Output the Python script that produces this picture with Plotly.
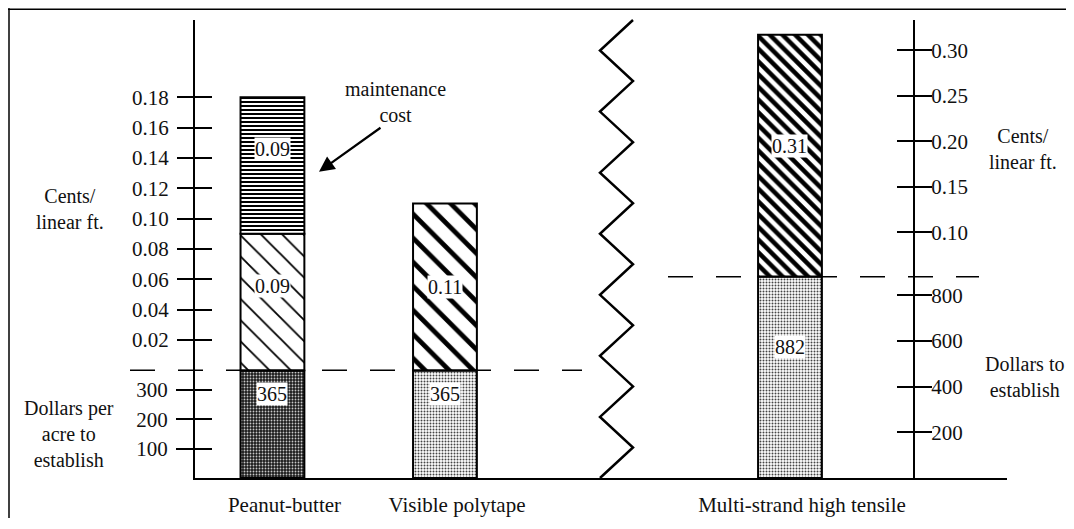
import plotly.graph_objects as go

# ---------------- data ----------------
categories = ["Peanut-butter", "Visible polytape", " ", "Multi-strand high tensile"]
fence_types = ["Peanut-butter", "Visible polytape", "Multi-strand high tensile"]
establish_dollars = [365, 365, 882]          # dollars to establish
pb_cents = [0.09, 0.09]                      # peanut-butter: operating, maintenance (cents/linear ft.)
vp_cents = [0.11]                            # visible polytape (cents/linear ft.)
ms_cents = [0.31]                            # multi-strand high tensile (cents/linear ft.)

left_dollar_ticks = [100, 200, 300]
left_cent_ticks = [0.02, 0.04, 0.06, 0.08, 0.10, 0.12, 0.14, 0.16, 0.18]
right_dollar_ticks = [200, 400, 600, 800]
right_cent_ticks = [0.10, 0.15, 0.20, 0.25, 0.30]

# ---------------- layout geometry (page pixels) ----------------
OFF = 8                       # default body margin of the html page
W, H = 1074 - OFF, 529 - OFF
PL, PR, PT, PB = 195, 1007, 20, 488   # plot area in page pixels
L, T = PL - OFF, PT - OFF
R, B = W - (PR - OFF), H - (PB - OFF)
PW, PH = PR - PL, PB - PT
def px_x(px):
    return (px - PL) / PW
def px_y(py):
    return (PB - py) / PH

FONT = "Liberation Serif, Times New Roman, serif"
INK = "#111111"
BAR_W = 0.37

def pat(shape, size, solidity, fg="black", bg="white"):
    return dict(shape=shape, size=size, solidity=solidity, fgcolor=fg, bgcolor=bg, fillmode="replace")

line = dict(color="black", width=2)
fig = go.Figure()

# establishment cost bars
fig.add_trace(go.Bar(x=[fence_types[0]], y=[establish_dollars[0]], yaxis="y", width=BAR_W,
                     marker=dict(color="#222", line=line, pattern=pat(".", 3, 0.3, fg="#c8c8c8", bg="#1c1c1c"))))
fig.add_trace(go.Bar(x=[fence_types[1]], y=[establish_dollars[1]], yaxis="y", width=BAR_W,
                     marker=dict(color="#ccc", line=line, pattern=pat(".", 3, 0.35, fg="#444", bg="white"))))
fig.add_trace(go.Bar(x=[fence_types[2]], y=[establish_dollars[2]], yaxis="y3", width=BAR_W,
                     marker=dict(color="#ccc", line=line, pattern=pat(".", 3, 0.35, fg="#444", bg="white"))))
# cents per linear ft bars
fig.add_trace(go.Bar(x=[fence_types[0]], y=[pb_cents[0]], base=[0], yaxis="y2", width=BAR_W,
                     marker=dict(color="white", line=line, pattern=pat("\\", 15, 0.12))))
fig.add_trace(go.Bar(x=[fence_types[0]], y=[pb_cents[1]], base=[pb_cents[0]], yaxis="y2", width=BAR_W,
                     marker=dict(color="white", line=line, pattern=pat("-", 4, 0.5))))
fig.add_trace(go.Bar(x=[fence_types[1]], y=[vp_cents[0]], base=[0], yaxis="y2", width=BAR_W,
                     marker=dict(color="white", line=line, pattern=pat("\\", 17, 0.28))))
fig.add_trace(go.Bar(x=[fence_types[2]], y=[ms_cents[0]], base=[0], yaxis="y5", width=BAR_W,
                     marker=dict(color="white", line=line, pattern=pat("\\", 9, 0.5))))

# empty helper traces so that the tick-only twin axes are created
for ax in ["y4", "y6", "y7", "y8", "y9"]:
    fig.add_trace(go.Scatter(x=[fence_types[0]], y=[None], yaxis=ax, mode="markers",
                             showlegend=False, hoverinfo="skip"))

# ---------------- axes ----------------
def lin_range(zero_px_from_bottom, px_per_unit):
    return [-zero_px_from_bottom / px_per_unit, (PH - zero_px_from_bottom) / px_per_unit]

rng_ld = lin_range(0, 0.30)          # left dollars: 100 per 30 px
rng_lc = lin_range(110, 1550)        # left cents
rng_rd = lin_range(0, 0.2333)        # right dollars
rng_rc = lin_range(158, 930)         # right cents
rng_ms = lin_range(206, 796.8)       # multi-strand bar scale

tickfont = dict(family=FONT, size=21, color=INK)
common = dict(showgrid=False, zeroline=False, tickcolor="black", tickwidth=2, ticklen=17,
              tickfont=tickfont, autorange=False)
right_pos = px_x(914)

fig.update_layout(
    width=W, height=H, margin=dict(l=L, r=R, t=T, b=B),
    paper_bgcolor="white", plot_bgcolor="rgba(0,0,0,0)",
    barmode="overlay", showlegend=False,
    xaxis=dict(type="category", categoryorder="array", categoryarray=categories,
               range=[-0.449, 4.258], showline=True, linecolor="black", linewidth=2,
               ticks="", showgrid=False, tickfont=dict(family=FONT, size=21, color=INK),
               ticklabelshift=12, ticklabelstandoff=7),
    yaxis=dict(range=rng_ld, tickvals=left_dollar_ticks, ticks="outside", showline=True,
               linecolor="black", linewidth=2, ticklabelstandoff=4, **common),
    yaxis2=dict(range=rng_lc, tickvals=left_cent_ticks, tickformat=".2f", ticks="outside",
                overlaying="y", anchor="x", side="left", ticklabelstandoff=4, **common),
    yaxis3=dict(range=rng_rd, tickvals=right_dollar_ticks, ticks="outside", overlaying="y",
                anchor="free", position=right_pos, side="right", showline=True,
                linecolor="black", linewidth=2, ticklabelstandoff=-5, **common),
    yaxis4=dict(range=rng_rc, tickvals=right_cent_ticks, tickformat=".2f", ticks="outside",
                overlaying="y", anchor="free", position=right_pos, side="right",
                ticklabelstandoff=-5, **common),
    yaxis5=dict(range=rng_ms, visible=False, overlaying="y"),
    yaxis6=dict(range=rng_ld, tickvals=left_dollar_ticks, ticks="inside", showticklabels=False,
                overlaying="y", anchor="x", side="left", **common),
    yaxis7=dict(range=rng_lc, tickvals=left_cent_ticks, ticks="inside", showticklabels=False,
                overlaying="y", anchor="x", side="left", **common),
    yaxis8=dict(range=rng_rd, tickvals=right_dollar_ticks, ticks="inside", showticklabels=False,
                overlaying="y", anchor="free", position=right_pos, side="right", **common),
    yaxis9=dict(range=rng_rc, tickvals=right_cent_ticks, ticks="inside", showticklabels=False,
                overlaying="y", anchor="free", position=right_pos, side="right", **common),
)

# ---------------- value labels ----------------
lab_font = dict(family=FONT, size=20, color=INK)
def value_label(x, yref, y, text):
    fig.add_annotation(x=x, y=y, xref="x", yref=yref, text=text, showarrow=False,
                       bgcolor="white", borderpad=0, font=lab_font)

value_label(fence_types[0], "y", establish_dollars[0] * 0.78, f"{establish_dollars[0]}")
value_label(fence_types[1], "y", establish_dollars[1] * 0.78, f"{establish_dollars[1]}")
value_label(fence_types[2], "y3", establish_dollars[2] * 0.65, f"{establish_dollars[2]}")
value_label(fence_types[0], "y2", pb_cents[0] * 0.62, f"{pb_cents[0]:.2f}")
value_label(fence_types[0], "y2", pb_cents[0] + pb_cents[1] * 0.62, f"{pb_cents[1]:.2f}")
value_label(fence_types[1], "y2", vp_cents[0] * 0.5, f"{vp_cents[0]:.2f}")
value_label(fence_types[2], "y5", ms_cents[0] * 0.54, f"{ms_cents[0]:.2f}")

# ---------------- axis titles / notes ----------------
title_font = dict(family=FONT, size=20, color=INK)
def note(px, py, text):
    fig.add_annotation(x=px_x(px), y=px_y(py), xref="paper", yref="paper", text=text,
                       xanchor="center", yanchor="middle",
                       showarrow=False, font=title_font, align="center")

note(70, 213, "Cents/<br>linear ft.")
note(69, 443, "Dollars per<br>acre to<br>establish")
note(1023, 152, "Cents/<br>linear ft.")
note(1024, 385, "Dollars to<br>establish")
note(395, 104, "maintenance<br>cost")

# arrow pointing at maintenance cost
fig.add_annotation(x=px_x(319), y=px_y(175), xref="paper", yref="paper", text="",
                   showarrow=True, ax=63, ay=-45, arrowhead=2, arrowsize=1.4,
                   arrowwidth=2.2, arrowcolor="black")

# ---------------- dashed boundary lines ----------------
dash = dict(color="black", width=1.5, dash="25px,23px")
fig.add_shape(type="line", xref="paper", yref="y2", x0=px_x(130), x1=px_x(582), y0=0, y1=0,
              line=dash, layer="below")
fig.add_shape(type="line", xref="paper", yref="y3", x0=px_x(668), x1=px_x(979),
              y0=establish_dollars[2], y1=establish_dollars[2], line=dash, layer="below")

# ---------------- zig-zag axis break ----------------
n_seg = 15
pts = []
for i in range(n_seg + 1):
    xx = px_x(633) if i % 2 == 0 else px_x(600)
    yy = 1 - i / n_seg
    pts.append(f"{xx},{yy}")
fig.add_shape(type="path", xref="paper", yref="paper", path="M " + " L ".join(pts),
              line=dict(color="black", width=2.5))

# ---------------- frame ----------------
fig.add_shape(type="line", xref="paper", yref="paper", x0=px_x(9), x1=px_x(9),
              y0=px_y(8), y1=px_y(529), line=dict(color="black", width=1.5))
fig.add_shape(type="line", xref="paper", yref="paper", x0=px_x(8), x1=px_x(1074),
              y0=px_y(9), y1=px_y(9), line=dict(color="black", width=1.5))

fig.write_html("out.html")
